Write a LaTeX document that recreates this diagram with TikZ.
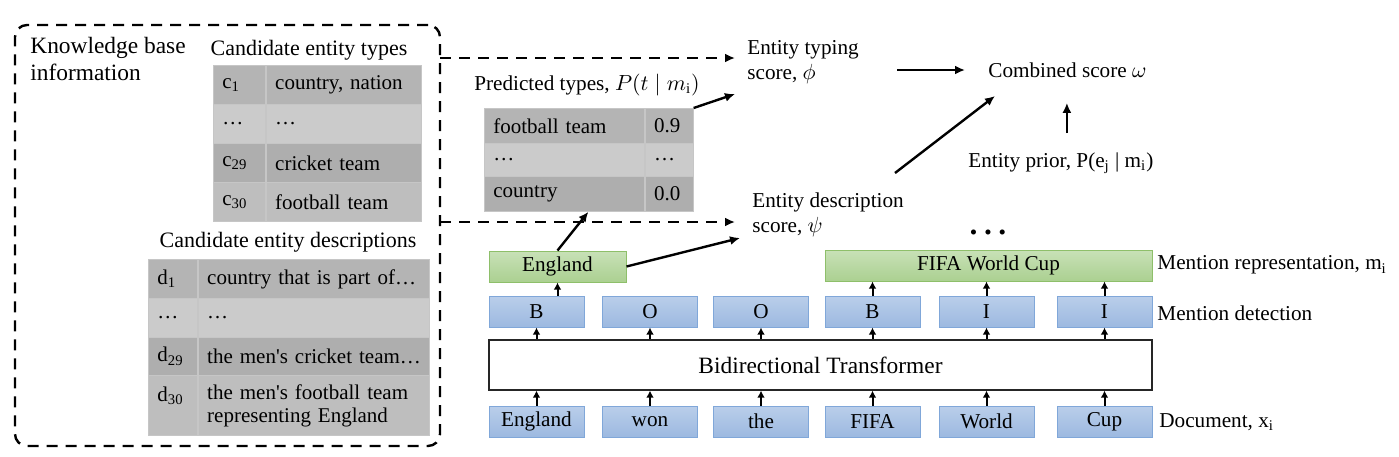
\documentclass[tikz,border=0pt]{standalone}
\usepackage{fontspec}
\setmainfont{Liberation Serif}
\usetikzlibrary{arrows.meta, positioning, calc}
\definecolor{tokblue}{HTML}{BACEEA}
\definecolor{tokbluedk}{HTML}{9CB9E0}
\definecolor{tokedge}{HTML}{80A7D9}
\definecolor{mentgreen}{HTML}{C8E1B7}
\definecolor{mentgreendk}{HTML}{ABD091}
\definecolor{mentedge}{HTML}{8EBF6A}
\definecolor{rowa}{HTML}{B4B4B4}
\definecolor{rowb}{HTML}{CBCBCB}
\definecolor{rowc}{HTML}{AEAEAE}
\definecolor{rowd}{HTML}{BEBEBE}
\definecolor{celledge}{HTML}{C6C6C6}
\tikzset{
  tok/.style={rectangle, draw=tokedge, line width=0.5pt, top color=tokblue, bottom color=tokbluedk,
    font=\fontsize{10.6}{12}\selectfont, minimum width=47.5pt, minimum height=15.5pt, inner sep=0pt},
  ment/.style={rectangle, draw=mentedge, line width=0.5pt, top color=mentgreen, bottom color=mentgreendk,
    font=\fontsize{10.6}{12}\selectfont, minimum height=15.5pt, inner sep=0pt},
  cell/.style={rectangle, draw=celledge, line width=0.4pt, anchor=north west, align=left,
    font=\fontsize{10.5}{11.5}\selectfont, inner xsep=4.5pt, inner ysep=0pt},
  lbl/.style={font=\fontsize{10.6}{12.5}\selectfont, align=left, inner sep=0pt},
  hdr/.style={font=\fontsize{11}{13}\selectfont, align=left, inner sep=0pt},
  kbtxt/.style={font=\fontsize{11.7}{13.5}\selectfont, align=left, inner sep=0pt},
  tfmbox/.style={rectangle, draw=black!85, line width=0.6pt, fill=white,
    font=\fontsize{11.7}{13.5}\selectfont, minimum width=331.5pt, minimum height=25pt, inner sep=0pt},
  kbbox/.style={rectangle, rounded corners=6pt, draw, line width=1.2pt, dash pattern=on 5.5pt off 4pt, inner sep=0pt},
  ar/.style={-{Latex[length=5pt,width=4.5pt]}, line width=1.2pt},
  arsm/.style={-{Latex[length=3.5pt,width=3.8pt]}, line width=1pt},
  dar/.style={-{Latex[length=5pt,width=4.5pt]}, line width=1.2pt, dash pattern=on 5.5pt off 4pt},
}
\begin{document}
\begin{tikzpicture}[x=0.5pt, y=-0.5pt]
  \useasboundingbox (0,0) rectangle (1399,456);

  % knowledge base
  \node[kbbox, minimum width=212.5pt, minimum height=210.5pt] (kb) at (227.5,235.5) {};
  \node[kbtxt, anchor=north west] (kbinfo) at (30,37) {Knowledge base\\information};
  \node[hdr] (cttitle) at (309,50) {Candidate entity types};
  \foreach \i/\y/\id/\txt/\col in {1/65/{c\textsubscript{1}}/{country, nation}/rowa,
      2/104/{\dots}/{\dots}/rowb, 3/143/{c\textsubscript{29}}/{cricket team}/rowc,
      4/182/{c\textsubscript{30}}/{football team}/rowd}{
    \node[cell, fill=\col, text width=17pt, minimum height=19.5pt] (cta\i) at (213,\y) {\id};
    \node[cell, fill=\col, text width=68.5pt, minimum height=19.5pt] (ctb\i) at (cta\i.north east) {\txt};
  }
  \node[hdr] (cdtitle) at (288,242) {Candidate entity descriptions};
  \foreach \i/\y/\h/\id/\txt/\col in {1/259/19.5/{d\textsubscript{1}}/{country that is part of\dots}/rowa,
      2/298/19.5/{\dots}/{\dots}/rowb,
      3/337/19/{d\textsubscript{29}}/{\mbox{the men\textquotesingle s cricket team\dots}}/rowc,
      4/375/30/{d\textsubscript{30}\\\mbox{}}/{the men\textquotesingle s football team\\representing England}/rowd}{
    \node[cell, fill=\col, text width=15.5pt, minimum height=\h pt] (cda\i) at (148,\y) {\id};
    \node[cell, fill=\col, text width=106.5pt, minimum height=\h pt] (cdb\i) at (cda\i.north east) {\txt};
  }

  % predicted types
  \node[lbl] (pttitle) at (587,85) {Predicted types, $P(t \mid m_{\mathrm{i}})$};
  \foreach \i/\y/\h/\txt/\val/\col in {1/108/17.5/{football team}/{0.9}/rowa,
      2/143/16.5/{\dots}/{\dots}/rowb, 3/176/17.5/{country}/{0.0}/rowc}{
    \node[cell, fill=\col, text width=71pt, minimum height=\h pt] (pta\i) at (484,\y) {\txt};
    \node[cell, fill=\col, text width=15pt, minimum height=\h pt] (ptb\i) at (pta\i.north east) {\val};
  }

  % scores
  \node[lbl, anchor=west] (typscore) at (747,62) {Entity typing\\score, $\phi$};
  \node[lbl, anchor=west] (descscore) at (752,214.5) {Entity description\\score, $\psi$};
  \node[lbl, anchor=west] (combined) at (988,70) {Combined score $\omega$};
  \node[lbl, anchor=west] (prior) at (968,163) {Entity prior, P(e\textsubscript{j} | m\textsubscript{i})};
  \node[lbl] (more) at (988,235) {\textbullet\hspace{3.5pt}\textbullet\hspace{3.5pt}\textbullet};

  % encoder
  \node[tfmbox] (tfm) at (820.5,365) {Bidirectional Transformer};
  \foreach \i/\x/\w/\t in {1/536.5/England/B, 2/650/won/O, 3/761/the/O,
      4/872.5/FIFA/B, 5/986.5/World/I, 6/1104.5/Cup/I}{
    \node[tok] (tok\i) at (\x,421.5) {\w};
    \node[tok] (det\i) at (\x,311.5) {\t};
    \draw[arsm] (tok\i.north) -- (tok\i.north |- tfm.south);
    \draw[arsm] (tfm.north -| det\i) -- (det\i.south);
  }
  \node[ment, minimum width=68.5pt] (eng) at (557.5,266.5) {England};
  \node[ment, minimum width=163.5pt] (fifa) at (988.5,265.5) {FIFA World Cup};
  \draw[arsm] (eng.south |- det1.north) -- (eng.south);
  \foreach \i in {4,5,6}
    \draw[arsm] (det\i.north) -- (det\i.north |- fifa.south);

  \node[lbl, anchor=west] (mrep) at (1157,265) {Mention representation, m\textsubscript{i}};
  \node[lbl, anchor=west] (mdet) at (1157,313) {Mention detection};
  \node[lbl, anchor=west] (doc) at (1159,422) {Document, x\textsubscript{i}};

  % connectors
  \coordinate (kbtop) at (440,58);
  \coordinate (kbbot) at (440,222);
  \coordinate (typin) at (735,94);
  \coordinate (descin) at (740,238);
  \coordinate (descout) at (895,173);
  \coordinate (combin) at (995,96);
  \draw[dar, shorten >=6pt] (kbtop) -- (typscore.west |- kbtop);
  \draw[dar, shorten >=8.5pt] (kbbot) -- (descscore.west |- kbbot);
  \draw[ar] (ptb1.north east) -- (typin);
  \draw[ar] (eng.north) -- ([xshift=12pt]pta3.south);
  \draw[ar] (eng.east) -- (descin);
  \draw[ar, shorten <=19pt, shorten >=11.5pt] (typscore.east |- combined.west) -- (combined.west);
  \draw[ar] (descout) -- (combin);
  \draw[ar, shorten <=9.5pt, shorten >=12.5pt] ([xshift=3pt]prior.north) -- ([xshift=3pt]prior.north |- combined.south);
\end{tikzpicture}
\end{document}
